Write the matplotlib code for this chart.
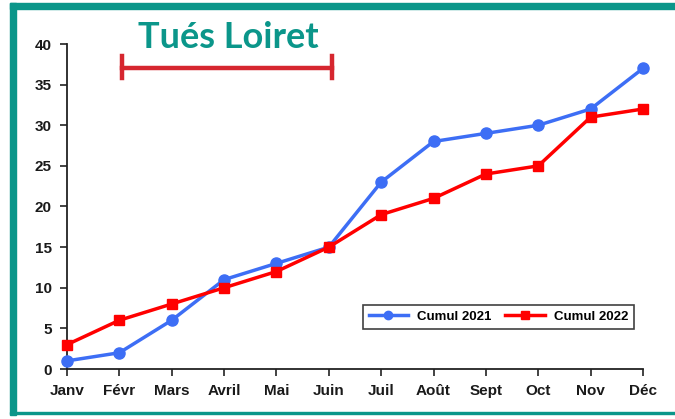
import numpy as np
import matplotlib.pyplot as plt
from matplotlib.patches import Rectangle
from matplotlib.lines import Line2D

months = ['Janv', 'Févr', 'Mars', 'Avril', 'Mai', 'Juin',
          'Juil', 'Août', 'Sept', 'Oct', 'Nov', 'Déc']
cumul_2021 = [1, 2, 6, 11, 13, 15, 23, 28, 29, 30, 32, 37]
cumul_2022 = [3, 6, 8, 10, 12, 15, 19, 21, 24, 25, 31, 32]
y_ticks = [0, 5, 10, 15, 20, 25, 30, 35, 40]

W, H = 675, 419
teal = '#0b968a'
fig = plt.figure(figsize=(W / 100, H / 100), dpi=100)
fig.patch.set_facecolor('white')

# teal frame (px -> figure coords)
def px_rect(x0, y0, x1, y1):
    return Rectangle((x0 / W, 1 - y1 / H), (x1 - x0) / W, (y1 - y0) / H,
                     transform=fig.transFigure, color=teal, zorder=0)

fig.patches.append(px_rect(10, 3, 16, 415))
fig.patches.append(px_rect(10, 3, W, 9))
fig.patches.append(px_rect(10, 412, W, 414))

ax = fig.add_axes([67 / W, 1 - 369 / H, (643 - 67) / W, (369 - 44) / H])
x = np.arange(len(months))
ax.plot(x, cumul_2021, color='#3d6ef5', lw=2.5, marker='o', ms=8,
        label='Cumul 2021', clip_on=False, zorder=3)
ax.plot(x, cumul_2022, color='#ff0000', lw=2.5, marker='s', ms=7,
        label='Cumul 2022', clip_on=False, zorder=3)

ax.set_xlim(0, 11)
ax.set_ylim(0, 40)
ax.set_xticks(x)
ax.set_xticklabels(months)
ax.set_yticks(y_ticks)
for s in ['top', 'right']:
    ax.spines[s].set_visible(False)
for s in ['left', 'bottom']:
    ax.spines[s].set_color('#222222')
    ax.spines[s].set_linewidth(1.3)
ax.tick_params(direction='out', length=5, width=1.2, color='#222222', pad=6)
for lab in ax.get_xticklabels() + ax.get_yticklabels():
    lab.set_fontfamily('Liberation Sans')
    lab.set_fontweight('bold')
    lab.set_fontsize(11)
    lab.set_color('#1a1a1a')

leg = ax.legend(loc='upper left', bbox_to_anchor=((356 - 67) / 576, 1 - (298 - 44) / 325),
                ncol=2, frameon=True, fancybox=False, edgecolor='#111111',
                prop={'family': 'Liberation Sans', 'weight': 'bold', 'size': 9.5},
                handlelength=3.0, handletextpad=0.7, columnspacing=1.0,
                borderpad=0.45, markerscale=0.75)
leg.get_frame().set_linewidth(1.2)

# title and red bracket
fig.text(228 / W, 1 - 37 / H, 'Tués Loiret', color=teal, fontsize=26,
         fontweight='bold', family='Lato', ha='center', va='center')
red = '#d6262f'
fig.lines.append(Line2D([122 / W, 332 / W], [1 - 68 / H, 1 - 68 / H],
                        transform=fig.transFigure, color=red, lw=3.2))
for xp in [122, 332]:
    fig.lines.append(Line2D([xp / W, xp / W], [1 - 56 / H, 1 - 78 / H],
                            transform=fig.transFigure, color=red, lw=3.2))

fig.savefig('out.png', dpi=100)
